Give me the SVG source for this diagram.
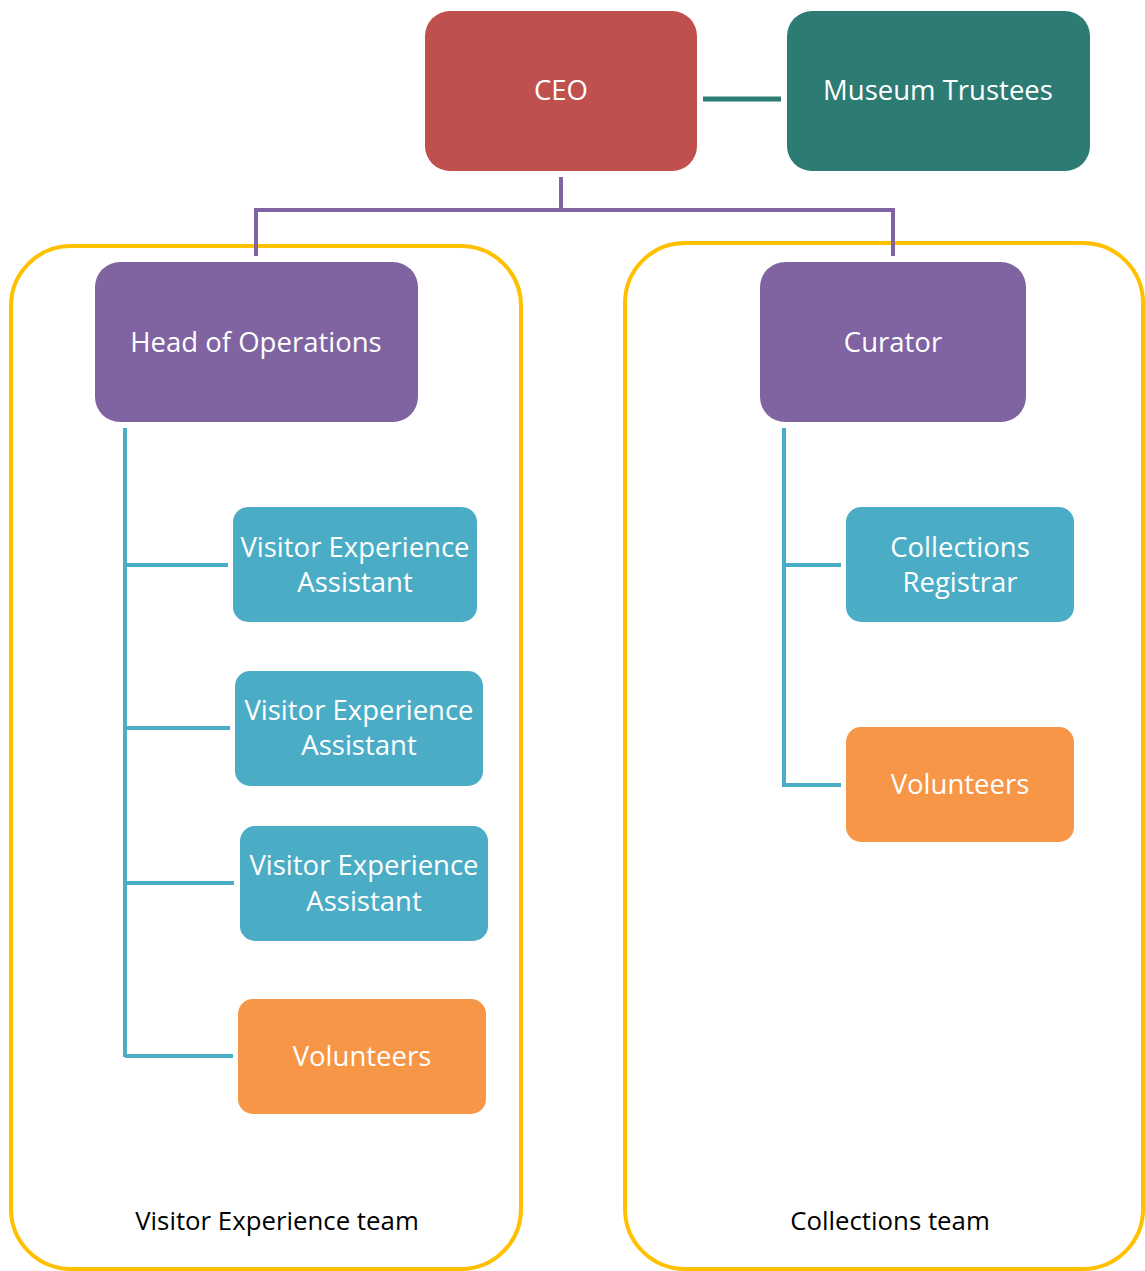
<svg xmlns="http://www.w3.org/2000/svg" width="1145" height="1271" viewBox="0 0 1145 1271">
<style>
.t{font-family:"Open Sans",Lato,"Liberation Sans",sans-serif;font-size:27.5px;fill:#fff;text-anchor:middle}
.team{font-family:"Open Sans",Lato,"Liberation Sans",sans-serif;font-size:25.8px;fill:#000;text-anchor:middle}
.box{fill:none;stroke:#FFC000;stroke-width:4}
.p{fill:none;stroke:#8064A2;stroke-width:4}
.b{fill:none;stroke:#4BACC6;stroke-width:4}
</style>
<rect width="1145" height="1271" fill="#fff"/>
<g id="team-visitor">
<rect class="box" x="11" y="246" width="510" height="1023" rx="60"/>
<text class="team" x="277" y="1230">Visitor Experience team</text>
</g>
<g id="team-collections">
<rect class="box" x="625" y="243" width="518" height="1026" rx="60"/>
<text class="team" x="890" y="1230">Collections team</text>
</g>
<g id="connectors">
<line x1="703" y1="99" x2="781" y2="99" stroke="#2C7C74" stroke-width="5"/>
<polyline class="p" points="561,177 561,210"/>
<polyline class="p" points="256,256 256,210 893,210 893,256"/>
<polyline class="b" points="125,428 125,1057"/>
<line class="b" x1="125" y1="565" x2="228" y2="565"/>
<line class="b" x1="125" y1="728" x2="230" y2="728"/>
<line class="b" x1="125" y1="883" x2="234" y2="883"/>
<line class="b" x1="125" y1="1056" x2="233" y2="1056"/>
<polyline class="b" points="784,428 784,785 841,785"/>
<line class="b" x1="784" y1="565" x2="841" y2="565"/>
</g>
<g id="ceo"><rect x="425" y="11" width="272" height="160" rx="25" fill="#C0504D"/><text class="t" x="561" y="100">CEO</text></g>
<g id="trustees"><rect x="787" y="11" width="303" height="160" rx="25" fill="#2C7C74"/><text class="t" x="938" y="100">Museum Trustees</text></g>
<g id="head-ops"><rect x="95" y="262" width="323" height="160" rx="25" fill="#8064A2"/><text class="t" x="256" y="352">Head of Operations</text></g>
<g id="curator"><rect x="760" y="262" width="266" height="160" rx="25" fill="#8064A2"/><text class="t" x="893" y="352">Curator</text></g>
<g id="vea1"><rect x="233" y="507" width="244" height="115" rx="15" fill="#4BACC6"/><text class="t" x="355" y="557">Visitor Experience</text><text class="t" x="355" y="592">Assistant</text></g>
<g id="vea2"><rect x="235" y="671" width="248" height="115" rx="15" fill="#4BACC6"/><text class="t" x="359" y="720">Visitor Experience</text><text class="t" x="359" y="755">Assistant</text></g>
<g id="vea3"><rect x="240" y="826" width="248" height="115" rx="15" fill="#4BACC6"/><text class="t" x="364" y="875">Visitor Experience</text><text class="t" x="364" y="911">Assistant</text></g>
<g id="vol-left"><rect x="238" y="999" width="248" height="115" rx="15" fill="#F79646"/><text class="t" x="362" y="1066">Volunteers</text></g>
<g id="registrar"><rect x="846" y="507" width="228" height="115" rx="15" fill="#4BACC6"/><text class="t" x="960" y="557">Collections</text><text class="t" x="960" y="592">Registrar</text></g>
<g id="vol-right"><rect x="846" y="727" width="228" height="115" rx="15" fill="#F79646"/><text class="t" x="960" y="794">Volunteers</text></g>
</svg>
